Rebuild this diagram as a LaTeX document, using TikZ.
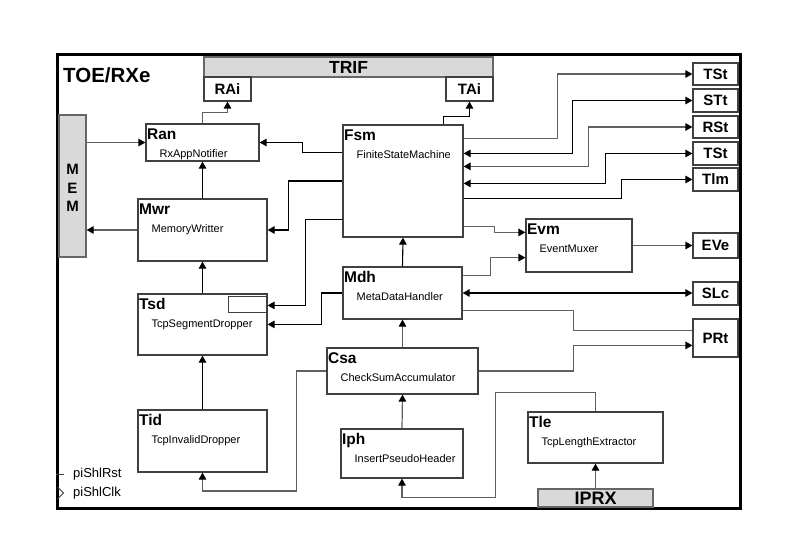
\documentclass[tikz,border=0pt]{standalone}
\usepackage{fontspec}
\setmainfont{Liberation Sans}
\usetikzlibrary{arrows.meta,calc,fit}
\definecolor{boxgray}{HTML}{D9D9D9}
\definecolor{edgegray}{HTML}{404040}
\definecolor{linegray}{HTML}{606060}
\tikzset{
  arr/.style={-{Triangle[length=7pt,width=7.5pt,color=black]}},
  arrb/.style={{Triangle[length=7pt,width=7.5pt,color=black]}-{Triangle[length=7pt,width=7.5pt,color=black]}},
  gl/.style={draw=linegray, line width=1.2pt},
  bl/.style={draw=black, line width=1.1pt},
  blkbox/.style={draw=edgegray, line width=1.2pt, fill=white, inner sep=0pt},
  graybox/.style={draw=edgegray!80, line width=1.2pt, fill=boxgray, inner sep=0pt},
  blktitle/.style={font=\fontsize{15.5}{18}\selectfont\bfseries, inner sep=0pt},
  blksub/.style={font=\fontsize{11}{13}\selectfont, inner sep=0pt},
  porttext/.style={font=\fontsize{15}{18}\selectfont\bfseries, inner sep=0pt},
  pintext/.style={font=\fontsize{13}{15}\selectfont, inner sep=0pt},
}
\newcommand\mkblk[7]{%
  \node[blkbox, fit={(#2,#3) (#4,#5)}] (#1) {};
  \node[blktitle, anchor=base west] (#1-t) at ($(#1.north west)+(1.5,16)$) {#6};
  \node[blksub, anchor=base west] (#1-s) at ($(#1.north west)+(14,34.5)$) {#7};
}
\newcommand\mkport[6]{%
  \node[blkbox, fit={(#2,#3) (#4,#5)}] (#1) {};
  \node[porttext] (#1-t) at (#1.center) {#6};
}
\begin{document}
\begin{tikzpicture}[x=1pt,y=-1pt]
\useasboundingbox (0,0) rectangle (794,559);
\fill[white] (0,0) rectangle (794,559);
% frame
\node[draw=black, line width=3pt, inner sep=0pt, fit={(57,55) (740,508)}] (frame) {};
\node[font=\fontsize{20.5}{24}\selectfont\bfseries, anchor=base west, inner sep=0pt] (title) at (63,83) {TOE/RXe};
% interfaces
\node[graybox, fit={(204,57) (493,77)}] (TRIF) {};
\node[font=\fontsize{17.5}{20}\selectfont\bfseries, inner sep=0pt] (TRIF-t) at (TRIF.center) {TRIF};
\node[graybox, fit={(538,489) (653,507)}] (IPRX) {};
\node[font=\fontsize{18}{20}\selectfont\bfseries, inner sep=0pt] (IPRX-t) at (IPRX.center) {IPRX};
\node[graybox, fit={(59,115) (86,257)}] (MEM) {};
\node[porttext, align=center, font=\fontsize{15}{18.5}\selectfont\bfseries] (MEM-t) at ($(MEM.center)+(0,2)$) {M\\E\\M};
% ports
\mkport{RAi}{204}{77}{251}{101}{RAi}
\mkport{TAi}{446}{77}{493}{101}{TAi}
\mkport{TStA}{693}{63}{738}{85}{TSt}
\mkport{STt}{693}{89}{738}{112}{STt}
\mkport{RSt}{693}{116}{738}{138}{RSt}
\mkport{TStB}{693}{142}{738}{165}{TSt}
\mkport{Tlm}{693}{168}{738}{191}{Tlm}
\mkport{EVe}{693}{233}{738}{258}{EVe}
\mkport{SLc}{693}{282}{738}{305}{SLc}
\mkport{PRt}{693}{319}{738}{357}{PRt}
% blocks
\mkblk{Ran}{146}{124}{259}{161}{Ran}{RxAppNotifier}
\mkblk{Mwr}{138}{199}{267}{261}{Mwr}{MemoryWritter}
\mkblk{Tsd}{138}{294}{267}{355}{Tsd}{TcpSegmentDropper}
\mkblk{Tid}{138}{410}{267}{472}{Tid}{TcpInvalidDropper}
\mkblk{Fsm}{343}{125}{463}{237}{Fsm}{FiniteStateMachine}
\mkblk{Evm}{526}{219}{632}{272}{Evm}{EventMuxer}
\mkblk{Mdh}{343}{267}{462}{319}{Mdh}{MetaDataHandler}
\mkblk{Csa}{327}{348}{478}{394}{Csa}{CheckSumAccumulator}
\mkblk{Iph}{341}{429}{463}{478}{Iph}{InsertPseudoHeader}
\mkblk{Tle}{528}{412}{663}{463}{Tle}{TcpLengthExtractor}
\draw[draw=edgegray, line width=1.2pt] ($(Tsd.north east)+(-39,3)$) rectangle ($(Tsd.north east)+(0,19)$);
% clock / reset pins
\node[pintext, anchor=west] (rst) at (73,474) {piShlRst};
\node[pintext, anchor=west] (clk) at (73,493) {piShlClk};
\draw[edgegray, line width=1pt] (frame.west |- rst.west) -- ++(8,0);
\draw[edgegray, line width=0.9pt] ($(frame.west |- clk.west)+(2,-6)$) -- ($(frame.west |- clk.west)+(8,0)$) -- ($(frame.west |- clk.west)+(2,6)$);
% connectors - left part
\draw[gl,arr] (Ran.north) -- ++(0,-11) -| (RAi.south);
\draw[bl,arr] ($(Fsm.north east)+(-20,0)$) -- ++(0,-8) -| (TAi.south);
\draw[gl,arr] (MEM.east |- Ran.west) -- (Ran.west);
\draw[gl,arr] (Mwr.west) -- (MEM.east |- Mwr.west);
\draw[bl,arr] (Mwr.north) -- (Ran.south);
\draw[bl,arr] (Tsd.north) -- (Mwr.south);
\draw[bl,arr] (Tid.north) -- (Tsd.south);
\draw[bl,arr] ($(Fsm.north west)+(0,28)$) -- ++(-40,0) |- (Ran.east);
\draw[bl,arr] (Fsm.west) -- ++(-54,0) |- (Mwr.east);
\draw[bl,arr] ($(Fsm.north west)+(0,95)$) -- ++(-37,0) |- ($(Tsd.north east)+(0,12)$);
\draw[bl,arr] (Mdh.west) -- ++(-21,0) |- ($(Tsd.north east)+(0,31)$);
% connectors - Fsm right side
\draw[gl,arr] ($(Fsm.north east)+(0,14)$) -- ++(94,0) |- (TStA.west);
\draw[bl,arrb] ($(Fsm.north east)+(0,29)$) -- ++(109,0) |- (STt.west);
\draw[gl,arrb] ($(Fsm.north east)+(0,42)$) -- ++(125,0) |- (RSt.west);
\draw[bl,arrb] ($(Fsm.north east)+(0,59)$) -- ++(142,0) |- (TStB.west);
\draw[bl,arr] ($(Fsm.north east)+(0,74)$) -- ++(158,0) |- (Tlm.west);
\draw[gl,arr] ($(Fsm.south east)+(0,-11)$) -- ++(31,0) |- ($(Evm.north west)+(0,14)$);
\draw[gl,arr] ($(Mdh.north east)+(0,9)$) -- ++(28,0) |- ($(Evm.south west)+(0,-15)$);
\draw[gl,arr] (Evm.east) -- (EVe.west |- Evm.east);
\draw[bl,arrb] (Mdh.east) -- (SLc.west |- Mdh.east);
\draw[gl] ($(Mdh.south east)+(0,-9)$) -- ++(111,0) |- ($(PRt.north west)+(0,12)$);
\draw[gl,arr] (Csa.east) -- ++(95,0) |- ($(PRt.north west)+(0,27)$);
% connectors - datapath
\draw[bl,arr] (Mdh.north) -- (Fsm.south);
\draw[gl,arr] (Csa.north) -- (Mdh.south);
\draw[gl,arr] (Iph.north) -- (Csa.south);
\draw[gl,arr] (Csa.west) -- ++(-30,0) -- ++(0,120) -| (Tid.south);
\draw[gl,arr] (Tle.north) -- ++(0,-19) -- ++(-100,0) -- ++(0,105) -| (Iph.south);
\draw[gl,arr] (IPRX.north) -- (Tle.south);
\end{tikzpicture}
\end{document}
